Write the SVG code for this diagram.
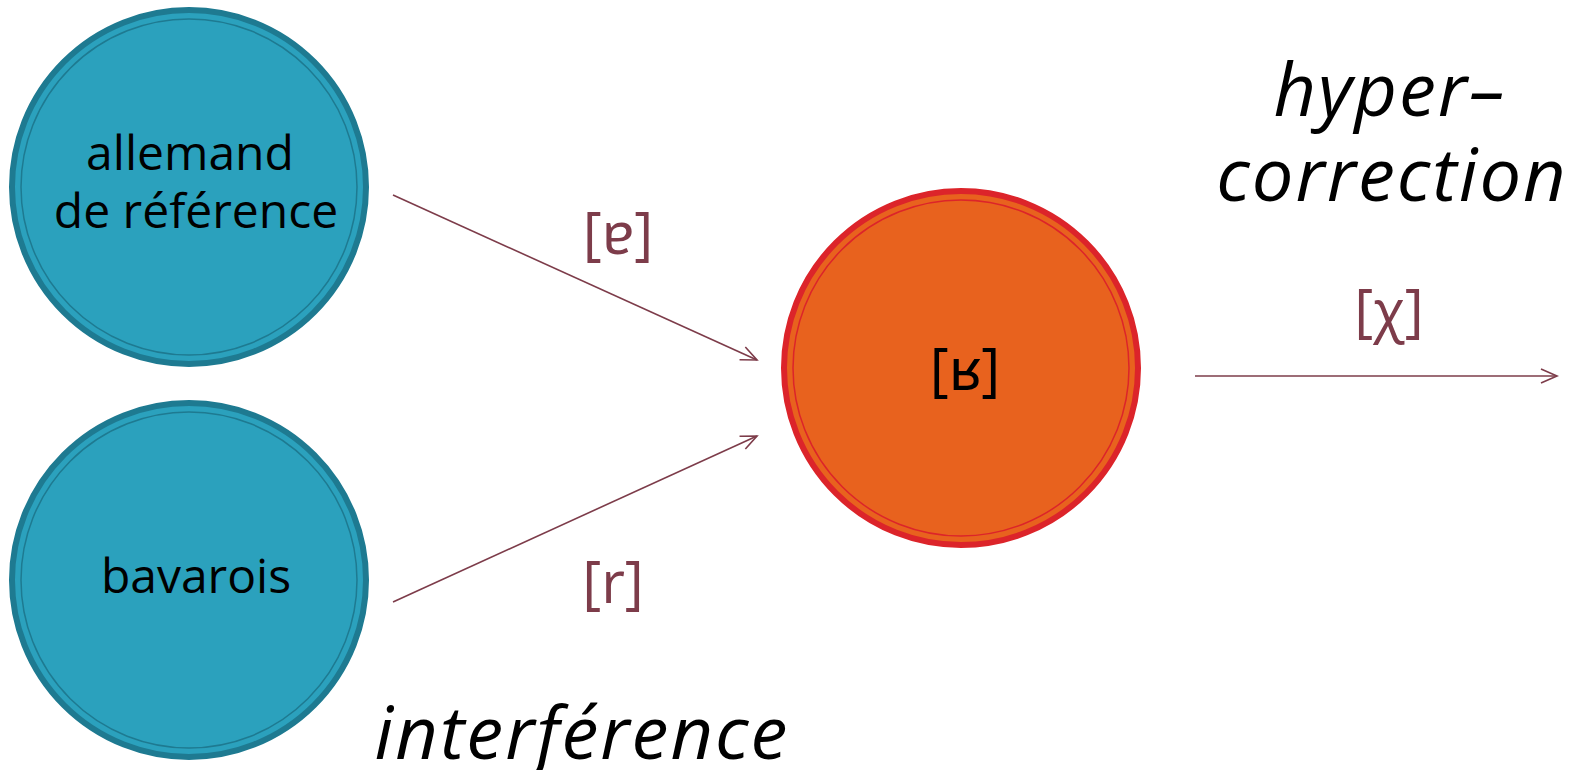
<svg xmlns="http://www.w3.org/2000/svg" width="1582" height="770" viewBox="0 0 1582 770">
<style>
.blue{fill:#2ba1bd;stroke:#1e7a91;stroke-width:6}
.blueIn{fill:none;stroke:#1e7a91;stroke-width:1.5}
.orange{fill:#e8621e;stroke:#dc242a;stroke-width:6}
.orangeIn{fill:none;stroke:#dc242a;stroke-width:1.5}
.lbl{font-family:"Open Sans","Noto Sans",sans-serif;font-size:48px;fill:#000;text-anchor:middle}
.ipa{font-family:"Open Sans","Noto Sans","DejaVu Sans",sans-serif;font-size:58px;fill:#7d3c4a;text-anchor:middle}
.it{font-family:"Open Sans","Noto Sans",sans-serif;font-style:italic;font-size:74px;letter-spacing:2px;fill:#000;text-anchor:middle}
.conn{stroke:#7d3c4a;stroke-width:1.6;fill:none}
</style>
<defs>
<marker id="arr" viewBox="0 0 20 20" refX="18" refY="10" markerWidth="20" markerHeight="20" markerUnits="userSpaceOnUse" orient="auto">
<path d="M2,3 L18,10 L2,17" fill="none" stroke="#7d3c4a" stroke-width="1.6"/>
</marker>
</defs>
<g id="node-allemand">
<circle class="blue" cx="189" cy="187" r="177"/>
<circle class="blueIn" cx="189" cy="187" r="168"/>
<text class="lbl" x="190" y="170">allemand</text>
<text class="lbl" x="196" y="228">de référence</text>
</g>
<g id="node-bavarois">
<circle class="blue" cx="189" cy="580" r="177"/>
<circle class="blueIn" cx="189" cy="580" r="168"/>
<text class="lbl" x="196" y="593">bavarois</text>
</g>
<g id="node-R">
<ellipse class="orange" cx="961" cy="368" rx="177" ry="177"/>
<ellipse class="orangeIn" cx="961" cy="368" rx="168" ry="168"/>
<text class="lbl" x="965" y="390" style="font-size:58px">[ʁ]</text>
</g>
<g id="connectors">
<line class="conn" x1="393" y1="195" x2="757" y2="360" marker-end="url(#arr)"/>
<line class="conn" x1="393" y1="602" x2="757" y2="436" marker-end="url(#arr)"/>
<line class="conn" x1="1195" y1="376" x2="1557" y2="376" marker-end="url(#arr)"/>
</g>
<g id="labels">
<text class="ipa" x="618" y="254">[ɐ]</text>
<text class="ipa" x="613" y="603">[r]</text>
<text class="ipa" x="1389" y="331">[χ]</text>
<text class="it" x="1390" y="116">hyper–</text>
<text class="it" x="1392" y="201">correction</text>
<text class="it" x="582" y="759">interférence</text>
</g>
</svg>
